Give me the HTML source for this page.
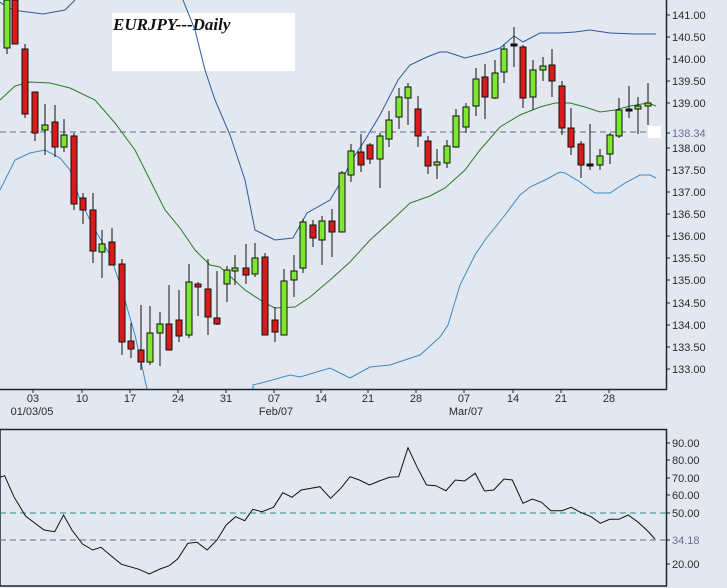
<!DOCTYPE html>
<html><head><meta charset="utf-8"><style>
html,body{margin:0;padding:0;background:#e3e8f0;}
svg{display:block;font-family:"Liberation Sans",sans-serif;}
</style></head><body>
<svg width="727" height="588" viewBox="0 0 727 588">
<rect width="727" height="588" fill="#e3e8f0"/>
<!-- title box -->
<rect x="112" y="13" width="183" height="58" fill="#fff"/>
<text x="113" y="30" font-family="'Liberation Serif',serif" font-weight="bold" font-style="italic" font-size="17" fill="#111">EURJPY---Daily</text>

<!-- bands -->
<polyline fill="none" stroke="#2a5a9a" stroke-width="1" points="0,2 8,8 20,11 43,14 65,10 75,0"/>
<polyline fill="none" stroke="#2a5a9a" stroke-width="1" points="183,0 195,30 205,70 215,100 230,135 245,180 255,230 275,240 293,238 307,213 330,200 342,180 352,160 365,140 380,115 398,80 410,65 427,57 440,52 447,52 465,58 485,53 500,48 514,36 523,42 540,33 560,33 575,32 590,30 610,33 635,34 656,34"/>
<polyline fill="none" stroke="#2b7a2b" stroke-width="1" points="0,100 15,86 30,82 50,83 70,88 95,100 115,123 135,150 150,180 165,210 180,228 195,250 210,265 220,267 245,290 265,303 275,308 295,307 310,297 330,280 350,262 370,240 390,222 410,203 430,196 445,188 465,170 480,150 500,127 520,115 540,107 555,103 570,103 585,107 600,112 615,110 630,106 648,103 656,106"/>
<polyline fill="none" stroke="#3a8ac8" stroke-width="1" points="0,190 15,160 30,153 45,150 60,158 70,170 80,200 95,230 110,255 122,290 135,335 145,380 147,389"/>
<polyline fill="none" stroke="#3a8ac8" stroke-width="1" points="253,389 253,385 265,382 290,375 300,377 330,368 350,378 370,367 390,365 420,355 440,337 448,325 460,285 475,255 485,240 505,215 520,195 530,187 545,180 560,172 565,173 580,182 595,193 610,193 625,183 640,175 650,175 656,178"/>

<!-- dashed ref line -->
<line x1="0" y1="132" x2="648" y2="132" stroke="#666a80" stroke-dasharray="6,4"/>
<rect x="648" y="126" width="13" height="12" fill="#fff"/>

<!-- candles -->
<g stroke="#111" stroke-width="1">
<line x1="7" y1="0" x2="7" y2="54"/><rect x="4" y="0" width="6" height="48" fill="#7ce82e"/>
<line x1="15" y1="0" x2="15" y2="44"/><rect x="12" y="0" width="6" height="44" fill="#d81c1c"/>
<line x1="25" y1="44" x2="25" y2="118"/><rect x="22" y="49" width="6" height="65" fill="#d81c1c"/>
<line x1="35" y1="92" x2="35" y2="141"/><rect x="32" y="92" width="6" height="41" fill="#d81c1c"/>
<line x1="45" y1="104" x2="45" y2="155"/><rect x="42" y="125" width="6" height="5" fill="#7ce82e"/>
<line x1="55" y1="105" x2="55" y2="157"/><rect x="52" y="122" width="6" height="25" fill="#d81c1c"/>
<line x1="64" y1="119" x2="64" y2="152"/><rect x="61" y="135" width="6" height="12" fill="#7ce82e"/>
<line x1="74" y1="133" x2="74" y2="210"/><rect x="71" y="136" width="6" height="68" fill="#d81c1c"/>
<line x1="83" y1="193" x2="83" y2="224"/><rect x="80" y="198" width="6" height="12" fill="#d81c1c"/>
<line x1="93" y1="193" x2="93" y2="263"/><rect x="90" y="210" width="6" height="41" fill="#d81c1c"/>
<line x1="102" y1="230" x2="102" y2="278"/><rect x="99" y="244" width="6" height="8" fill="#7ce82e"/>
<line x1="112" y1="228" x2="112" y2="265"/><rect x="109" y="242" width="6" height="23" fill="#d81c1c"/>
<line x1="122" y1="259" x2="122" y2="355"/><rect x="119" y="264" width="6" height="78" fill="#d81c1c"/>
<line x1="131" y1="323" x2="131" y2="358"/><rect x="128" y="341" width="6" height="8" fill="#d81c1c"/>
<line x1="141" y1="305" x2="141" y2="370"/><rect x="138" y="350" width="6" height="12" fill="#d81c1c"/>
<line x1="150" y1="306" x2="150" y2="365"/><rect x="147" y="333" width="6" height="29" fill="#7ce82e"/>
<line x1="160" y1="312" x2="160" y2="366"/><rect x="157" y="324" width="6" height="9" fill="#7ce82e"/>
<line x1="169" y1="285" x2="169" y2="350"/><rect x="166" y="324" width="6" height="26" fill="#d81c1c"/>
<line x1="179" y1="290" x2="179" y2="342"/><rect x="176" y="320" width="6" height="16" fill="#d81c1c"/>
<line x1="189" y1="264" x2="189" y2="338"/><rect x="186" y="282" width="6" height="53" fill="#7ce82e"/>
<line x1="198" y1="282" x2="198" y2="316"/><rect x="195" y="284" width="6" height="3" fill="#d81c1c"/>
<line x1="208" y1="259" x2="208" y2="335"/><rect x="205" y="289" width="6" height="28" fill="#d81c1c"/>
<line x1="217" y1="271" x2="217" y2="325"/><rect x="214" y="318" width="6" height="6" fill="#d81c1c"/>
<line x1="227" y1="266" x2="227" y2="302"/><rect x="224" y="270" width="6" height="14" fill="#7ce82e"/>
<line x1="235" y1="255" x2="235" y2="285"/><rect x="232" y="268" width="6" height="3" fill="#7ce82e"/>
<line x1="246" y1="244" x2="246" y2="284"/><rect x="243" y="268" width="6" height="7" fill="#d81c1c"/>
<line x1="255" y1="243" x2="255" y2="277"/><rect x="252" y="258" width="6" height="16" fill="#7ce82e"/>
<line x1="265" y1="253" x2="265" y2="335"/><rect x="262" y="257" width="6" height="78" fill="#d81c1c"/>
<line x1="275" y1="307" x2="275" y2="342"/><rect x="272" y="320" width="6" height="12" fill="#d81c1c"/>
<line x1="284" y1="269" x2="284" y2="335"/><rect x="281" y="281" width="6" height="54" fill="#7ce82e"/>
<line x1="294" y1="255" x2="294" y2="297"/><rect x="291" y="271" width="6" height="9" fill="#7ce82e"/>
<line x1="303" y1="219" x2="303" y2="273"/><rect x="300" y="222" width="6" height="46" fill="#7ce82e"/>
<line x1="313" y1="220" x2="313" y2="247"/><rect x="310" y="225" width="6" height="13" fill="#d81c1c"/>
<line x1="322" y1="216" x2="322" y2="265"/><rect x="319" y="221" width="6" height="19" fill="#7ce82e"/>
<line x1="332" y1="209" x2="332" y2="257"/><rect x="329" y="221" width="6" height="11" fill="#d81c1c"/>
<line x1="342" y1="171" x2="342" y2="232"/><rect x="339" y="173" width="6" height="59" fill="#7ce82e"/>
<line x1="351" y1="144" x2="351" y2="182"/><rect x="348" y="151" width="6" height="24" fill="#7ce82e"/>
<line x1="361" y1="134" x2="361" y2="172"/><rect x="358" y="152" width="6" height="13" fill="#d81c1c"/>
<line x1="370" y1="143" x2="370" y2="164"/><rect x="367" y="145" width="6" height="14" fill="#d81c1c"/>
<line x1="380" y1="133" x2="380" y2="188"/><rect x="377" y="136" width="6" height="23" fill="#7ce82e"/>
<line x1="389" y1="111" x2="389" y2="147"/><rect x="386" y="120" width="6" height="19" fill="#7ce82e"/>
<line x1="399" y1="88" x2="399" y2="129"/><rect x="396" y="97" width="6" height="20" fill="#7ce82e"/>
<line x1="408" y1="83" x2="408" y2="125"/><rect x="405" y="87" width="6" height="11" fill="#7ce82e"/>
<line x1="418" y1="96" x2="418" y2="147"/><rect x="415" y="109" width="6" height="27" fill="#d81c1c"/>
<line x1="428" y1="136" x2="428" y2="174"/><rect x="425" y="141" width="6" height="25" fill="#d81c1c"/>
<line x1="437" y1="149" x2="437" y2="179"/><rect x="434" y="162" width="6" height="3" fill="#7ce82e"/>
<line x1="447" y1="140" x2="447" y2="168"/><rect x="444" y="146" width="6" height="17" fill="#7ce82e"/>
<line x1="456" y1="109" x2="456" y2="148"/><rect x="453" y="116" width="6" height="31" fill="#7ce82e"/>
<line x1="466" y1="103" x2="466" y2="133"/><rect x="463" y="107" width="6" height="20" fill="#7ce82e"/>
<line x1="476" y1="68" x2="476" y2="116"/><rect x="473" y="79" width="6" height="27" fill="#7ce82e"/>
<line x1="485" y1="64" x2="485" y2="119"/><rect x="482" y="77" width="6" height="20" fill="#d81c1c"/>
<line x1="495" y1="60" x2="495" y2="99"/><rect x="492" y="73" width="6" height="25" fill="#7ce82e"/>
<line x1="504" y1="45" x2="504" y2="83"/><rect x="501" y="49" width="6" height="23" fill="#7ce82e"/>
<line x1="514" y1="27" x2="514" y2="67"/><rect x="511" y="44" width="6" height="2" fill="#111"/>
<line x1="523" y1="45" x2="523" y2="108"/><rect x="520" y="47" width="6" height="51" fill="#d81c1c"/>
<line x1="533" y1="60" x2="533" y2="110"/><rect x="530" y="70" width="6" height="27" fill="#7ce82e"/>
<line x1="543" y1="57" x2="543" y2="81"/><rect x="540" y="66" width="6" height="4" fill="#7ce82e"/>
<line x1="552" y1="49" x2="552" y2="97"/><rect x="549" y="65" width="6" height="16" fill="#d81c1c"/>
<line x1="562" y1="81" x2="562" y2="135"/><rect x="559" y="86" width="6" height="42" fill="#d81c1c"/>
<line x1="571" y1="108" x2="571" y2="155"/><rect x="568" y="128" width="6" height="19" fill="#d81c1c"/>
<line x1="581" y1="141" x2="581" y2="178"/><rect x="578" y="144" width="6" height="21" fill="#d81c1c"/>
<line x1="590" y1="124" x2="590" y2="170"/><rect x="587" y="164" width="6" height="2" fill="#111"/>
<line x1="600" y1="149" x2="600" y2="170"/><rect x="597" y="156" width="6" height="9" fill="#7ce82e"/>
<line x1="610" y1="133" x2="610" y2="164"/><rect x="607" y="135" width="6" height="19" fill="#7ce82e"/>
<line x1="619" y1="98" x2="619" y2="138"/><rect x="616" y="110" width="6" height="26" fill="#7ce82e"/>
<line x1="629" y1="86" x2="629" y2="118"/><rect x="626" y="109" width="6" height="2" fill="#111"/>
<line x1="638" y1="97" x2="638" y2="134"/><rect x="635" y="106" width="6" height="3" fill="#7ce82e"/>
<line x1="648" y1="83" x2="648" y2="125"/><rect x="645" y="103" width="6" height="3" fill="#7ce82e"/>
</g>

<!-- main frame -->
<line x1="666.5" y1="0" x2="666.5" y2="389.5" stroke="#1a2533" stroke-width="1.5"/>
<line x1="0" y1="389.5" x2="667" y2="389.5" stroke="#1a2533" stroke-width="1.5"/>
<g stroke="#1a2533">
<line x1="666" y1="15" x2="670" y2="15"/><line x1="666" y1="37" x2="670" y2="37"/><line x1="666" y1="59" x2="670" y2="59"/><line x1="666" y1="81" x2="670" y2="81"/><line x1="666" y1="103" x2="670" y2="103"/><line x1="666" y1="148" x2="670" y2="148"/><line x1="666" y1="170" x2="670" y2="170"/><line x1="666" y1="192" x2="670" y2="192"/><line x1="666" y1="214" x2="670" y2="214"/><line x1="666" y1="236" x2="670" y2="236"/><line x1="666" y1="258" x2="670" y2="258"/><line x1="666" y1="280" x2="670" y2="280"/><line x1="666" y1="303" x2="670" y2="303"/><line x1="666" y1="325" x2="670" y2="325"/><line x1="666" y1="347" x2="670" y2="347"/><line x1="666" y1="369" x2="670" y2="369"/><line x1="666" y1="133" x2="670" y2="133"/>
</g>
<g font-size="11" fill="#2a2a2a">
<text x="672" y="19">141.00</text><text x="672" y="41">140.50</text><text x="672" y="63">140.00</text><text x="672" y="85">139.50</text><text x="672" y="107">139.00</text><text x="672" y="152">138.00</text><text x="672" y="174">137.50</text><text x="672" y="196">137.00</text><text x="672" y="218">136.50</text><text x="672" y="240">136.00</text><text x="672" y="262">135.50</text><text x="672" y="284">135.00</text><text x="672" y="307">134.50</text><text x="672" y="329">134.00</text><text x="672" y="351">133.50</text><text x="672" y="373">133.00</text>
<text x="672" y="137" fill="#6a6a9a">138.34</text>
</g>
<!-- x axis -->
<g stroke="#1a2533">
<line x1="33" y1="389" x2="33" y2="393"/><line x1="82" y1="389" x2="82" y2="393"/><line x1="130" y1="389" x2="130" y2="393"/><line x1="178" y1="389" x2="178" y2="393"/><line x1="226" y1="389" x2="226" y2="393"/><line x1="274" y1="389" x2="274" y2="393"/><line x1="321" y1="389" x2="321" y2="393"/><line x1="368" y1="389" x2="368" y2="393"/><line x1="416" y1="389" x2="416" y2="393"/><line x1="464" y1="389" x2="464" y2="393"/><line x1="513" y1="389" x2="513" y2="393"/><line x1="561" y1="389" x2="561" y2="393"/><line x1="609" y1="389" x2="609" y2="393"/>
</g>
<g font-size="11" fill="#2a2a2a" text-anchor="middle">
<text x="33" y="402">03</text><text x="82" y="402">10</text><text x="130" y="402">17</text><text x="178" y="402">24</text><text x="226" y="402">31</text><text x="274" y="402">07</text><text x="321" y="402">14</text><text x="368" y="402">21</text><text x="416" y="402">28</text><text x="464" y="402">07</text><text x="513" y="402">14</text><text x="561" y="402">21</text><text x="609" y="402">28</text>
<text x="32" y="415">01/03/05</text><text x="276" y="415">Feb/07</text><text x="466" y="415">Mar/07</text>
</g>

<!-- lower panel -->
<rect x="0" y="429.5" width="666.5" height="156.5" fill="none" stroke="#1a2533" stroke-width="1.5"/>
<line x1="0" y1="513" x2="666" y2="513" stroke="#2a8a8a" stroke-dasharray="6,4"/>
<line x1="0" y1="540" x2="666" y2="540" stroke="#666a80" stroke-dasharray="6,4"/>
<polyline fill="none" stroke="#111" stroke-width="1" points="0,477.3 4.6,475.7 13.9,496.7 25.5,516 44,530 54.7,531.7 63.5,515 71.9,530 82.5,544 92.7,550 101,547.3 111.3,556 121.5,564.3 139,569.3 149.3,574 160,569 169.2,565.7 177.6,559 187.8,543.3 197,542.3 207.2,550 217,540 226.2,525 235.5,516.7 244.8,520.7 252.7,509.3 262,511.7 273.5,507.3 282.8,492.7 292,497.3 301.3,490 319.9,486.7 330.6,498.3 340.8,488.3 350,476.7 359.3,480 369.5,485 379.2,481 389.4,477.3 398.7,476.7 408,447.7 417.2,467.3 426.5,485 435.8,485.7 446,490.7 455.3,480 464.5,481 475.2,473.3 484.5,491 493.7,490 504,479 512.3,480 523,503.3 532.2,499 541.5,502.3 550.8,510.7 561.9,510.7 571.2,507.3 580.4,512.3 591.1,516.7 600.4,523.3 609.6,519.3 618.9,519.3 628.2,515 637.5,521.7 646.7,530 655,539"/>
<g stroke="#1a2533">
<line x1="666" y1="443" x2="670" y2="443"/><line x1="666" y1="460" x2="670" y2="460"/><line x1="666" y1="478" x2="670" y2="478"/><line x1="666" y1="495" x2="670" y2="495"/><line x1="666" y1="513" x2="670" y2="513"/><line x1="666" y1="540" x2="670" y2="540"/><line x1="666" y1="564" x2="670" y2="564"/>
</g>
<g font-size="11" fill="#2a2a2a">
<text x="672" y="447">90.00</text><text x="672" y="464">80.00</text><text x="672" y="482">70.00</text><text x="672" y="499">60.00</text><text x="672" y="517">50.00</text><text x="672" y="544" fill="#6a6a9a">34.18</text><text x="672" y="568">20.00</text>
</g>
</svg>
</body></html>
